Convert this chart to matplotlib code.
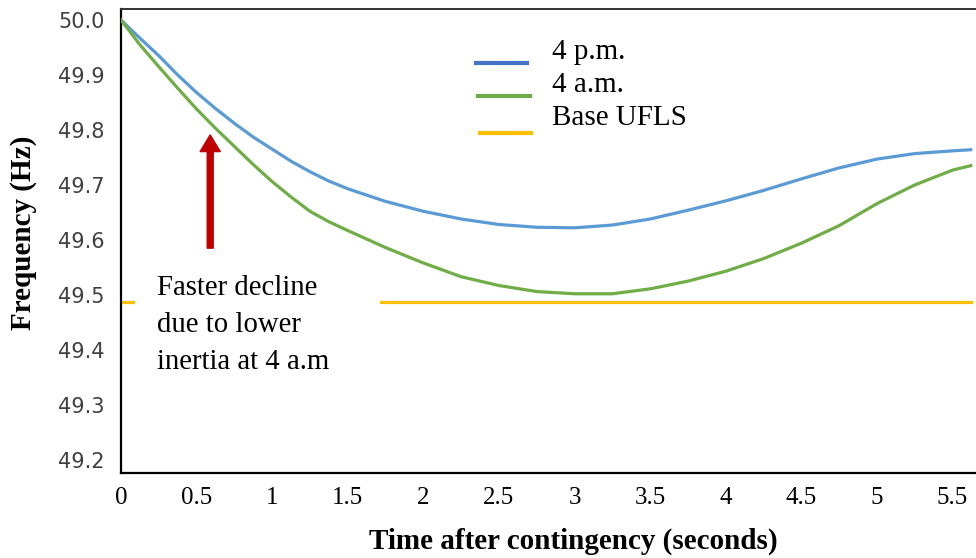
import numpy as np
import matplotlib.pyplot as plt
from matplotlib.lines import Line2D
from matplotlib.patches import Rectangle

# time after contingency (s)
t = [0, 0.125, 0.25, 0.375, 0.5, 0.625, 0.75, 0.875, 1.0, 1.125, 1.25, 1.375,
     1.5, 1.75, 2.0, 2.25, 2.5, 2.75, 3.0, 3.25, 3.5, 3.75, 4.0, 4.25, 4.5,
     4.75, 5.0, 5.25, 5.5, 5.62]

# frequency (Hz)
f_4pm = [50.000, 49.967, 49.935, 49.900, 49.868, 49.839, 49.812, 49.787,
         49.765, 49.743, 49.724, 49.707, 49.693, 49.670, 49.652, 49.638,
         49.628, 49.623, 49.622, 49.627, 49.638, 49.654, 49.671, 49.690,
         49.711, 49.731, 49.747, 49.757, 49.762, 49.764]
f_4am = [50.000, 49.955, 49.915, 49.876, 49.838, 49.803, 49.770, 49.737,
         49.706, 49.678, 49.652, 49.633, 49.617, 49.586, 49.558, 49.533,
         49.517, 49.506, 49.502, 49.502, 49.511, 49.525, 49.543, 49.566,
         49.594, 49.626, 49.666, 49.700, 49.727, 49.735]
ufls_level = 49.487

yticks = [49.2, 49.3, 49.4, 49.5, 49.6, 49.7, 49.8, 49.9, 50.0]
xticks = [0, 0.5, 1, 1.5, 2, 2.5, 3, 3.5, 4, 4.5, 5, 5.5]
xticklabels = ['0', '0.5', '1', '1.5', '2', '2.5', '3', '3.5', '4', '4.5', '5', '5.5']

serif = 'Liberation Serif'

fig = plt.figure(figsize=(9.76, 5.58), dpi=100)
ax = fig.add_axes([121 / 976, 85 / 558, 855 / 976, 464 / 558])

ax.plot(t, f_4pm, color='#5B9BD5', lw=2.3, zorder=3, solid_joinstyle='round')
ax.plot(t, f_4am, color='#70AD47', lw=2.3, zorder=3, solid_joinstyle='round')
ax.plot([t[0], t[-1]], [ufls_level, ufls_level], color='#FFC000', lw=2.3, zorder=2)

# white box behind the annotation text (hides the UFLS line there)
ax.add_patch(Rectangle((0.09, 49.36), 1.62, 0.18, facecolor='white',
                       edgecolor='none', zorder=2.5))
ax.text(0.24, 49.537, 'Faster decline\ndue to lower\ninertia at 4 a.m',
        family=serif, fontsize=20.7, va='top', ha='left', linespacing=1.55, zorder=4)

ax.annotate('', xy=(0.59, 49.791), xytext=(0.59, 49.585),
            arrowprops=dict(width=4.3, headwidth=14.5, headlength=12,
                            color='#C00000', shrink=0), zorder=4)

# legend drawn by hand (lines sit below their labels as in the original)
leg = [('#4472C4', 0.415, 0.884, '4 p.m.', 0.892),
       ('#70AD47', 0.418, 0.8125, '4 a.m.', 0.821),
       ('#FFC000', 0.420, 0.733, 'Base UFLS', 0.750)]
for col, x0, yl, lab, yt in leg:
    ax.add_line(Line2D([x0, x0 + 0.06], [yl, yl], color=col, lw=3,
                       transform=ax.transAxes))
    ax.text(0.504, yt, lab, transform=ax.transAxes, family=serif,
            fontsize=21, va='baseline', ha='left')

ax.set_xlim(0, 855 / 151.2)
ax.set_ylim(49.176, 50.02)
ax.set_yticks(yticks)
ax.set_yticklabels(['%.1f' % v for v in yticks], fontsize=15, color='#404040')
ax.set_xticks(xticks)
ax.set_xticklabels(xticklabels, family=serif, fontsize=18)
ax.tick_params(axis='y', length=0, pad=12)
ax.tick_params(axis='x', length=0, pad=10)

ax.spines['right'].set_visible(False)
for s in ['left', 'bottom']:
    ax.spines[s].set_linewidth(1.6)
ax.spines['top'].set_linewidth(1.4)
ax.spines['top'].set_color('#333333')

fig.text(573 / 976, 1 - 541 / 558, 'Time after contingency (seconds)', family=serif,
         fontweight='bold', fontsize=21, ha='center', va='center')
fig.text(24 / 976, 1 - 233 / 558, 'Frequency (Hz)', family=serif,
         fontweight='bold', fontsize=21, rotation=90, ha='center', va='center')

fig.savefig('out.png', dpi=100)
